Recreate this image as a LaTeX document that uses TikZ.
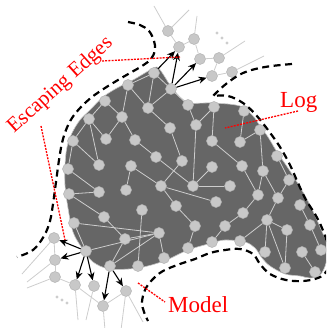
\documentclass[tikz,border=0pt]{standalone}
\usepackage{fontspec}
\setmainfont{Liberation Serif}
\usetikzlibrary{arrows.meta}
\definecolor{blobc}{RGB}{102,102,102}
\definecolor{dotfill}{RGB}{200,200,200}
\definecolor{dotline}{RGB}{178,178,178}
\definecolor{edgec}{RGB}{205,205,205}
\begin{document}
\begin{tikzpicture}[x=1pt,y=-1pt,
  dot/.style={circle,inner sep=0pt,minimum size=11pt,fill=dotfill,draw=dotline,line width=0.5pt},
  inedge/.style={draw=edgec,line width=0.8pt},
  arr/.style={-{Stealth[length=8pt,width=7pt]},line width=1.1pt,black},
  bound/.style={line width=2.2pt,dash pattern=on 7pt off 4.5pt,black},
  leader/.style={red,line width=1.3pt,dash pattern=on 2pt off 1.2pt},
  lbl/.style={text=red,font=\fontsize{23}{26}\selectfont,inner sep=0pt}]
\useasboundingbox (0,0) rectangle (326,328);
\clip (0,0) rectangle (326,328);
% blob (the log)
\filldraw[fill=blobc,draw=gray!45,line width=0.6pt] plot[smooth cycle,tension=0.55] coordinates {
 (65,165) (67,147) (72,133) (80,120) (90,110) (103,97) (117,88) (133,80) (150,70) (157,67)
 (163,74) (168,82) (174,90) (180,97) (190,103) (213,103) (240,106) (253,116) (260,126)
 (268,137) (277,152) (288,168) (300,187) (310,205) (320,227) (327,245) (326,263) (320,275)
 (310,278) (300,276) (285,274) (270,266) (262,258) (255,248) (245,242) (225,240) (212,243)
 (188,250) (164,261) (138,268) (110,269) (93,262) (82,248) (73,232) (68,208) (65,185)};
% inner nodes
\foreach \n/\x/\y in {n1/154/73, n2/128/85, n3/171/89, n4/105/101, n5/148/108, n6/188/105,
 n7/122/117, n8/89/119, n9/214/107, n10/244/111, n11/170/128, n12/196/125, n13/260/130,
 n14/73/141, n15/106/139, n16/135/140, n17/212/141, n18/240/142, n19/156/157, n20/182/161,
 n21/277/156, n22/99/165, n23/131/166, n24/68/169, n25/212/167, n26/242/166, n27/263/171,
 n28/289/180, n29/161/186, n30/193/186, n31/230/186, n32/126/190, n33/99/192, n34/69/194,
 n35/258/195, n36/278/198, n37/216/202, n38/300/205, n39/176/206, n40/142/210, n41/104/217,
 n42/243/213, n43/267/220, n44/74/223, n45/195/226, n46/225/226, n47/310/225, n48/287/230,
 n49/159/233, n50/125/239, n51/212/242, n52/240/241, n53/188/248, n54/86/251, n55/265/252,
 n56/302/252, n57/164/258, n58/110/266, n59/138/266, n60/285/268, n61/315/272, n62/321/250}
 \node[dot] (\n) at (\x,\y) {};
% outer nodes
\foreach \n/\x/\y in {t1/168/31, t2/179/47, t3/194/39, t4/200/59, t5/219/58, t6/212/76, t7/232/72,
 b1/54/238, b2/55/260, b3/55/277, b4/75/285, b5/94/286, b6/126/291, b7/103/306}
 \node[dot] (\n) at (\x,\y) {};
% free ends of outer edges
\foreach \n/\x/\y in {ta/154/6, tb/189/10, tc/197/16, td/245/41, te/264/56,
 ba/22/274, bb/27/282, bc/27/288, bd/78/320, be/86/320, bf/105/330, bg/121/330, bh/143/322}
 \coordinate (\n) at (\x,\y);
% inner edges
\foreach \a/\b in {n1/n2, n1/n5, n1/n3, n2/n5, n2/n7, n3/n5, n3/n6, n4/n8, n4/n7, n8/n14,
 n8/n22, n8/n15, n7/n15, n7/n16, n5/n11, n11/n20, n16/n19, n19/n30, n20/n29, n14/n22,
 n14/n24, n24/n33, n23/n29, n23/n32, n34/n33, n34/n41, n41/n50, n44/n49, n50/n49, n54/n49,
 n54/n44, n58/n49, n40/n59, n58/n50, n49/n57, n6/n12, n12/n9, n12/n30, n9/n17, n17/n26,
 n18/n13, n18/n10, n13/n27, n26/n35, n27/n35, n27/n36, n25/n30, n30/n31, n29/n37, n29/n39,
 n35/n42, n42/n46, n46/n51, n43/n52, n43/n55, n43/n60, n43/n48, n43/n36, n38/n47, n48/n60,
 n56/n61, n47/n62, n39/n45, n45/n53, n28/n36, n21/n28}
 \draw[inedge] (\a) -- (\b);
% outer edges
\foreach \a/\b in {t1/t2, t2/t3, t3/t4, t4/t5, t5/t6, t6/t7, t1/ta, t1/tb, t3/tc, t5/td, t7/te,
 b1/b2, b2/b3, b3/b4, b4/b7, b7/b6, b1/ba, b2/bb, b3/bc, b4/bd, b5/be, b7/bf, b6/bg, b6/bh}
 \draw[inedge] (\a) -- (\b);
% escaping edges
\foreach \a/\b in {n1/t2, n3/t2, n3/t4, n3/t6, n54/b1, n54/b2, n54/b4, n54/b5, n58/b7, n58/b6}
 \draw[arr] (\a) -- (\b);
% dots
\foreach \x/\y in {217/33, 222/38, 227/43, 57/297, 62/300, 67/303}
 \fill[edgec] (\x,\y) circle (1.6pt);
% dashed boundaries
\draw[bound] plot[smooth,tension=0.6] coordinates {(128,22) (140,25) (149,31) (154,41) (155,50)
 (151,59) (142,66) (130,73) (118,80) (105,88) (92,97) (81,107) (72,118) (66,130) (62,143)
 (59,160) (56,182) (53,204) (50,221) (44,236) (33,250) (17,257)};
\draw[bound] plot[smooth,tension=0.6] coordinates {(292,64) (265,67) (243,73) (226,84) (213,96)}
 -- plot[smooth,tension=0.6] coordinates {(213,96) (228,96) (243,103) (256,115) (268,130)
 (280,147) (290,165) (298,183) (306,200) (315,214) (322,228) (328,245) (331,260) (326,272)
 (318,278) (303,281) (286,280) (270,274) (260,264) (253,254) (240,249) (225,250) (210,253)
 (195,259) (180,264) (163,271) (152,280) (145,290) (142,302) (144,312) (148,321)};
% labels
\node[lbl,anchor=base west] (log) at (280,108) {Log};
\node[lbl,anchor=base west] (model) at (168,312) {Model};
\node[lbl,font=\fontsize{21}{24}\selectfont,rotate=42,anchor=base west] (esc) at (14,134) {Escaping Edges};
\coordinate (l1s) at (102,61); \coordinate (l1e) at (180,57);
\coordinate (l2s) at (41,126); \coordinate (l2e) at (65,240);
\coordinate (l3s) at (298,111); \coordinate (l3e) at (225,128);
\coordinate (l4s) at (138,283); \coordinate (l4e) at (165,302);
\draw[leader] (l1s) -- (l1e);
\draw[leader] (l2s) -- (l2e);
\draw[leader] (l3s) -- (l3e);
\draw[leader] (l4s) -- (l4e);
\end{tikzpicture}
\end{document}
